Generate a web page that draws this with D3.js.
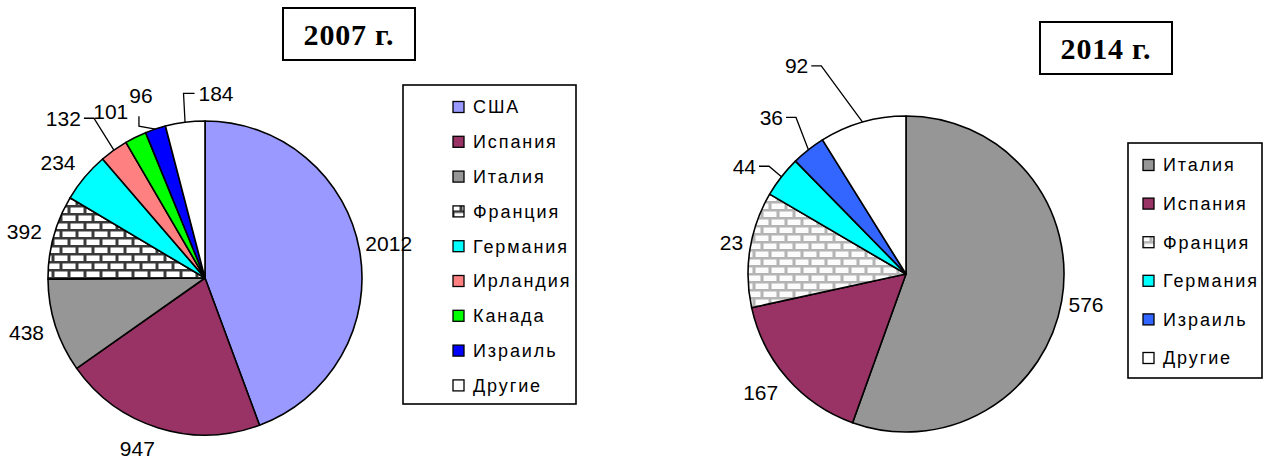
<!DOCTYPE html>
<html>
<head>
<meta charset="utf-8">
<script src="https://cdn.jsdelivr.net/npm/d3@7"></script>
<style>
  body { margin: 0; background: #fff; }
  text { font-family: "Liberation Sans", Arial, sans-serif; }
</style>
</head>
<body>
<svg id="chart" width="1271" height="463"></svg>
<script>
// data
var countries2007 = ["США", "Испания", "Италия", "Франция", "Германия", "Ирландия", "Канада", "Израиль", "Другие"];
var values2007 = [2012, 947, 438, 392, 234, 132, 101, 96, 184];
var labels2007 = ["2012", "947", "438", "392", "234", "132", "101", "96", "184"];

var countries2014 = ["Италия", "Испания", "Франция", "Германия", "Израиль", "Другие"];
var values2014 = [576, 167, 123, 44, 36, 92];   // Франция slice is ~123 wide
var labels2014 = ["576", "167", "23", "44", "36", "92"]; // label shows only "23"

var titles = ["2007 г.", "2014 г."];

// styles
var fills2007 = ["#9999ff", "#993366", "#969696", "url(#brickDark)", "#00ffff", "#ff8080", "#00ff00", "#0000ff", "#ffffff"];
var fills2014 = ["#969696", "#993366", "url(#brickLight)", "#00ffff", "#3366ff", "#ffffff"];

var svg = d3.select("#chart");
var defs = svg.append("defs");

function brick(id, mortar, face) {
  var p = defs.append("pattern")
    .attr("id", id)
    .attr("patternUnits", "userSpaceOnUse")
    .attr("width", 16).attr("height", 16);
  p.append("rect").attr("width", 16).attr("height", 16).attr("fill", mortar);
  var bricks = [[1.5, 1.5], [-6.5, 9.5], [9.5, 9.5]];
  bricks.forEach(function(b) {
    p.append("rect").attr("x", b[0]).attr("y", b[1])
      .attr("width", 13).attr("height", 5.5).attr("fill", face);
  });
}
brick("brickDark", "#3a3a3a", "#ffffff");
brick("brickLight", "#b4b4b4", "#fbfbfb");

var arcPoint = function(cx, cy, r, a) {
  return [cx + r * Math.sin(a), cy - r * Math.cos(a)];
};

var drawPie = function(cfg) {
  var pie = d3.pie().sort(null).value(function(d) { return d; });
  var arcs = pie(cfg.values);
  var arc = d3.arc().innerRadius(0).outerRadius(cfg.r);

  var g = svg.append("g").attr("transform", "translate(" + cfg.cx + "," + cfg.cy + ")");
  g.selectAll("path.slice")
    .data(arcs).enter()
    .append("path")
    .attr("class", "slice")
    .attr("d", arc)
    .attr("fill", function(d, i) { return cfg.fills[i]; })
    .attr("stroke", "#000")
    .attr("stroke-width", 1.6)
    .attr("stroke-linejoin", "round");

  // labels outside the pie, with optional nudges + leader lines
  var lab = svg.append("g");
  arcs.forEach(function(d, i) {
    var mid = (d.startAngle + d.endAngle) / 2;
    var p = arcPoint(cfg.cx, cfg.cy, cfg.r + 12, mid);
    var nud = cfg.nudges[i] || {};
    var anchor = nud.anchor || (Math.sin(mid) >= 0 ? "start" : "end");
    var x = p[0] + (nud.dx || 0);
    var y = p[1] - 10 * Math.cos(mid) + (nud.dy || 0);
    var t = lab.append("text")
      .attr("x", x).attr("y", y)
      .attr("dy", "0.35em")
      .attr("text-anchor", anchor)
      .attr("font-size", 21)
      .text(cfg.labels[i]);
    if (nud.leader) {
      var w = t.node().getComputedTextLength();
      var left = anchor === "start" ? x : x - w;
      var right = left + w;
      var pts;
      var edge = arcPoint(cfg.cx, cfg.cy, cfg.r, mid);
      if (nud.leader === "right") {
        pts = [[right + 3, y], [right + 13, y], edge];
      } else if (nud.leader === "left") {
        pts = [[left - 4, y], [left - 15, y], edge];
      } else { // below
        var cxl = (left + right) / 2 - 2;
        pts = [[cxl, y + 21], [cxl, y + 31], edge];
      }
      lab.append("path")
        .attr("d", d3.line()(pts))
        .attr("fill", "none")
        .attr("stroke", "#000")
        .attr("stroke-width", 1.3);
    }
  });

  // legend
  var L = cfg.legend;
  var leg = svg.append("g");
  leg.append("rect")
    .attr("x", L.x).attr("y", L.y).attr("width", L.w).attr("height", L.h)
    .attr("fill", "none").attr("stroke", "#000").attr("stroke-width", 1.6);
  var rows = leg.selectAll("g.row")
    .data(cfg.names).enter()
    .append("g")
    .attr("transform", function(d, i) {
      return "translate(" + (L.x + L.pad) + "," + (L.y + L.first + i * L.step) + ")";
    });
  rows.append("rect")
    .attr("x", 0).attr("y", -5.5).attr("width", 11).attr("height", 11)
    .attr("fill", function(d, i) { return cfg.fills[i]; })
    .attr("stroke", "#000").attr("stroke-width", 1.3);
  rows.append("text")
    .attr("x", 20).attr("dy", "0.36em")
    .attr("font-size", 18)
    .attr("letter-spacing", 1.9)
    .text(function(d) { return d; });

  // title box
  var T = cfg.title;
  svg.append("rect")
    .attr("x", T.x).attr("y", T.y).attr("width", T.w).attr("height", T.h)
    .attr("fill", "#fff").attr("stroke", "#000").attr("stroke-width", 2);
  svg.append("text")
    .attr("x", T.x + T.w / 2).attr("y", T.y + T.h / 2)
    .attr("dy", "0.35em")
    .attr("text-anchor", "middle")
    .style("font-family", "'Liberation Serif', 'Times New Roman', serif")
    .attr("font-weight", "bold")
    .attr("font-size", 30)
    .attr("letter-spacing", 0.8)
    .text(T.text);
};

drawPie({
  cx: 205, cy: 278, r: 157,
  values: values2007, labels: labels2007, names: countries2007, fills: fills2007,
  nudges: {
    0: {dx: -6, dy: -3},
    5: {dx: -26, dy: -14, leader: "right"},
    6: {dx: -2, dy: -6},
    7: {dx: 1, dy: -13, leader: "below"},
    8: {dx: 15, dy: -7, anchor: "start", leader: "left"}
  },
  legend: {x: 403, y: 85, w: 173, h: 319, pad: 50, first: 22, step: 34.8},
  title: {x: 283, y: 8, w: 132, h: 52, text: titles[0]}
});

drawPie({
  cx: 906, cy: 274, r: 158,
  values: values2014, labels: labels2014, names: countries2014, fills: fills2014,
  nudges: {
    0: {dx: -5},
    2: {dx: 5, dy: -3},
    3: {dx: -16, dy: 3, leader: "right"},
    4: {dx: -18, dy: -15, leader: "right"},
    5: {dx: -51, dy: -35, leader: "right"}
  },
  legend: {x: 1128, y: 143, w: 134, h: 235, pad: 15, first: 22, step: 38.6},
  title: {x: 1040, y: 22, w: 132, h: 52, text: titles[1]}
});
</script>
</body>
</html>
